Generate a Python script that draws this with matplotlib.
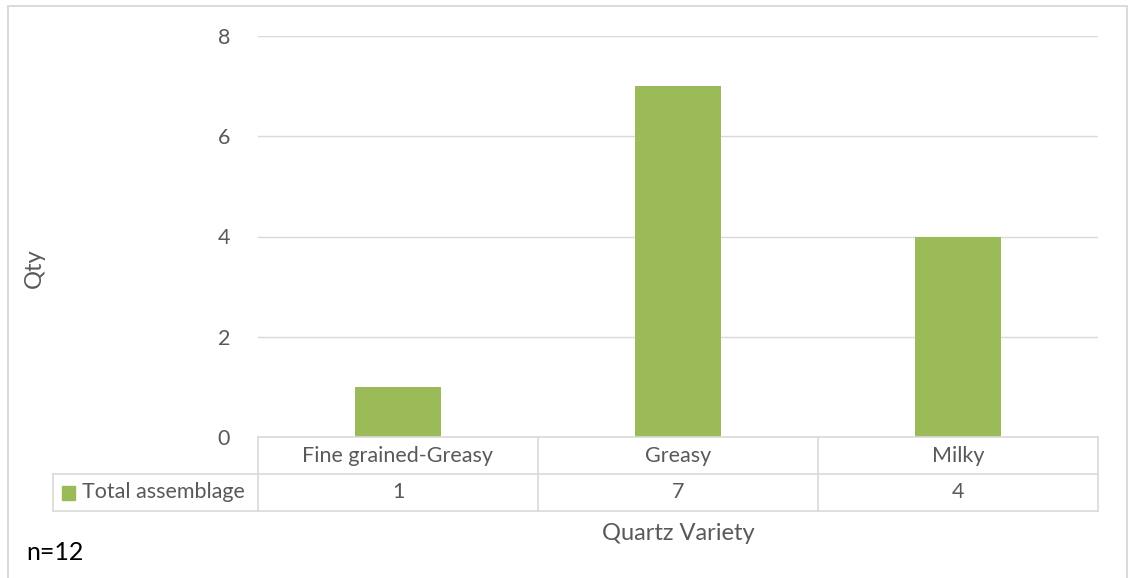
import matplotlib
matplotlib.use("Agg")
import matplotlib.pyplot as plt
from matplotlib.lines import Line2D
from matplotlib.patches import Rectangle

categories = ["Fine grained-Greasy", "Greasy", "Milky"]
values = [1, 7, 4]
series_name = "Total assemblage"
y_ticks = [0, 2, 4, 6, 8]
x_title = "Quartz Variety"
y_title = "Qty"
note = "n=12"

W, H = 1130, 578
BAR = "#9BBB59"
TXT = "#595959"
GRID = "#D9D9D9"
FS = 15.5

plt.rcParams['font.family'] = ['Lato', 'DejaVu Sans']
fig = plt.figure(figsize=(W / 100, H / 100), dpi=100)

def fx(px):
    return px / W

def fy(py):
    return 1 - py / H

left, right, top, bottom = 258, 1098, 36, 437
ax = fig.add_axes([fx(left), fy(bottom), fx(right) - fx(left), fy(top) - fy(bottom)])
ax.bar(range(len(categories)), values, width=0.31, color=BAR, zorder=3)
ax.set_xlim(-0.5, len(categories) - 0.5)
ax.set_ylim(0, 8)
ax.set_yticks(y_ticks)
ax.set_yticklabels([str(t) for t in y_ticks], color=TXT, fontsize=FS)
ax.tick_params(axis='y', length=0, pad=20)
ax.set_xticks([])
for s in ax.spines.values():
    s.set_visible(False)
ax.grid(axis='y', color=GRID, linewidth=1, zorder=0)

# figure border
fig.add_artist(Rectangle((fx(8), fy(590)), fx(1127) - fx(8), fy(6) - fy(590),
                         transform=fig.transFigure, fill=False, edgecolor=GRID, linewidth=1.4))

# data table
row1_top, row1_bot, row2_bot = 437, 474, 511
tab_left = 53

def hline(x0, x1, y):
    fig.add_artist(Line2D([fx(x0), fx(x1)], [fy(y), fy(y)], transform=fig.transFigure,
                          color=GRID, linewidth=1.2))

def vline(x, y0, y1):
    fig.add_artist(Line2D([fx(x), fx(x)], [fy(y0), fy(y1)], transform=fig.transFigure,
                          color=GRID, linewidth=1.2))

hline(left, right, row1_top)
hline(tab_left, right, row1_bot)
hline(tab_left, right, row2_bot)
col_w = (right - left) / len(categories)
for i in range(len(categories) + 1):
    vline(left + i * col_w, row1_top, row2_bot)
vline(tab_left, row1_bot, row2_bot)

for i, (c, v) in enumerate(zip(categories, values)):
    cx = left + (i + 0.5) * col_w
    fig.text(fx(cx), fy((row1_top + row1_bot) / 2), c, ha='center', va='center',
             color=TXT, fontsize=FS)
    fig.text(fx(cx), fy((row1_bot + row2_bot) / 2), str(v), ha='center', va='center',
             color=TXT, fontsize=FS)

# legend key
fig.add_artist(Rectangle((fx(62), fy(500)), fx(75) - fx(62), fy(486) - fy(500),
                         transform=fig.transFigure, color=BAR))
fig.text(fx(82), fy((row1_bot + row2_bot) / 2), series_name, ha='left', va='center',
         color=TXT, fontsize=FS)

fig.text(fx(678), fy(534), x_title, ha='center', va='center', color=TXT, fontsize=17)
fig.text(fx(34), fy(268), y_title, ha='center', va='center', color=TXT, fontsize=17, rotation=90)
fig.text(fx(26), fy(552), note, ha='left', va='center', color='black', fontsize=18)

fig.savefig("out.png", dpi=100, facecolor='white')
